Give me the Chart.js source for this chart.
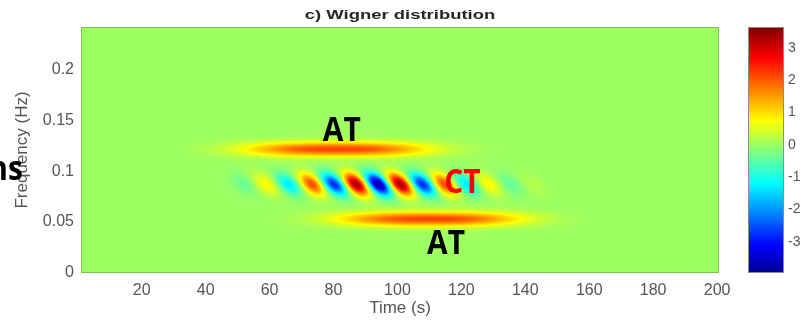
<!DOCTYPE html>
<html>
<head>
<meta charset="utf-8">
<title>c) Wigner distribution</title>
<script src="https://cdn.jsdelivr.net/npm/chart.js@4.4.1/dist/chart.umd.min.js"></script>
<style>
  html, body { margin: 0; padding: 0; background: #fff; }
  #wrap { position: relative; width: 806px; height: 323px; overflow: hidden; }
  #main { position: absolute; left: 0; top: 0; }
  #cbar { position: absolute; left: 736px; top: 0; }
</style>
</head>
<body>
<div id="wrap">
  <canvas id="main" width="806" height="323"></canvas>
  <canvas id="cbar" width="70" height="323"></canvas>
</div>
<script>
//DATA
const timeTicks  = [20, 40, 60, 80, 100, 120, 140, 160, 180, 200];
const freqTicks  = [0, 0.05, 0.1, 0.15, 0.2];
const colorTicks = [-3, -2, -1, 0, 1, 2, 3];

// auto-terms (AT): centre time (s), centre frequency (Hz), peak value
const atTime  = [81, 110];
const atFreq  = [0.1215, 0.053];
const atValue = [2.2, 2.2];

// cross-term (CT): one entry per lobe, left to right along the band
const ctTime  = [52, 59, 66, 73.3, 80.2, 87.1, 94, 100.9, 107.8, 114.7, 121.6, 128.5, 135.4, 142.3];
const ctValue = [-0.4, 0.8, -1.4, 2.2, -2.9, 3.5, -3.95, 3.5, -2.9, 2.2, -1.4, 0.8, -0.45, 0.2];
const ctFreq  = 0.087;

// text pasted over the figure
const noteText  = ['AT', 'CT', 'AT', 'ns'];
const noteTime  = [82.6, 120.3, 115.2, -22.6];
const noteFreq  = [0.1395, 0.0883, 0.0283, 0.101];
const noteColor = ['#000', '#ff0000', '#000', '#000'];

//RANGES
const T_MIN = 1, T_MAX = 200.6;
const F_MIN = 0, F_MAX = 0.2415;
const C_MIN = -3.97, C_MAX = 3.65;
const AT_SPREAD_T = 28;      // s, flat-topped along time
const AT_SHAPE    = 2.6;
const AT_SPREAD_F = 0.0049;  // Hz

//JET (matlab 64)
function jetPart(j) {
  if (j <= 0 || j >= 48) return 0;
  if (j < 16) return j / 16;
  if (j <= 32) return 1;
  return (48 - j) / 16;
}
function jet(v) {
  let p = (v - C_MIN) / (C_MAX - C_MIN);
  p = Math.min(1, Math.max(0, p));
  const k = p * 63 + 1;
  return [jetPart(k - 24), jetPart(k - 8), jetPart(k + 8)].map(c => Math.round(c * 255));
}

//PLUGINS
const heatmap = {
  id: 'heatmap',
  beforeDatasetsDraw(chart) {
    const { ctx, chartArea: a, scales: { x, y } } = chart;
    const w = Math.round(a.right - a.left), h = Math.round(a.bottom - a.top);
    const toPx = p => [x.getPixelForValue(p.x) - a.left, y.getPixelForValue(p.y) - a.top, p.v];
    const at = chart.data.datasets[0].data.map(toPx);
    const ct = chart.data.datasets[1].data.map(toPx);

    const sx = Math.abs(x.getPixelForValue(T_MIN + AT_SPREAD_T) - x.getPixelForValue(T_MIN));
    const sy = Math.abs(y.getPixelForValue(AT_SPREAD_F) - y.getPixelForValue(0));

    // CT stripes run parallel to the line joining the two auto-terms
    const dx = at[1][0] - at[0][0], dy = at[1][1] - at[0][1];
    const len = Math.hypot(dx, dy);
    const ux = dx / len, uy = dy / len;
    const step = (ct[ct.length - 1][0] - ct[0][0]) / (ct.length - 1);
    const sA = 1.25 * sy / Math.abs(uy);
    const sP = 0.42 * step * Math.abs(uy);

    const off = document.createElement('canvas');
    off.width = w; off.height = h;
    const octx = off.getContext('2d');
    const img = octx.createImageData(w, h);
    for (let j = 0; j < h; j++) {
      for (let i = 0; i < w; i++) {
        const px = i + 0.5, py = j + 0.5;
        let v = 0;
        for (const [cx, cy, pv] of at) {
          const ex = Math.abs(px - cx) / sx, ey = (py - cy) / sy;
          v += pv * Math.exp(-Math.pow(ex, AT_SHAPE) - 0.5 * ey * ey);
        }
        for (const [cx, cy, pv] of ct) {
          const rx = px - cx, ry = py - cy;
          const al = (rx * ux + ry * uy) / sA;
          const ac = (-rx * uy + ry * ux) / sP;
          v += pv * Math.exp(-0.5 * (al * al + ac * ac));
        }
        const [r, g, b] = jet(v);
        const o = (j * w + i) * 4;
        img.data[o] = r; img.data[o + 1] = g; img.data[o + 2] = b; img.data[o + 3] = 255;
      }
    }
    octx.putImageData(img, 0, 0);
    ctx.drawImage(off, Math.round(a.left), Math.round(a.top));
  },
  afterDatasetsDraw(chart) {
    const { ctx, chartArea: a } = chart;
    ctx.save();
    ctx.strokeStyle = 'rgba(0,0,0,0.22)';
    ctx.lineWidth = 1;
    ctx.strokeRect(a.left + 0.5, a.top + 0.5, a.right - a.left - 1, a.bottom - a.top - 1);
    ctx.restore();
  }
};

const overlay = {
  id: 'overlay',
  afterDraw(chart) {
    const { ctx, chartArea: a, scales: { x, y } } = chart;
    ctx.save();
    // title, drawn a bit stretched like the original figure
    ctx.fillStyle = '#262626';
    ctx.font = "bold 13px 'Liberation Sans', Arial, sans-serif";
    ctx.textAlign = 'center';
    ctx.textBaseline = 'middle';
    ctx.translate((a.left + a.right) / 2, 15);
    ctx.scale(1.42, 1);
    ctx.fillText('c) Wigner distribution', 0, 0);
    ctx.restore();

    noteText.forEach((t, i) => {
      ctx.save();
      ctx.translate(x.getPixelForValue(noteTime[i]), y.getPixelForValue(noteFreq[i]));
      ctx.scale(0.88, 1);
      ctx.font = "bold 34px 'Open Sans', sans-serif";
      ctx.fillStyle = noteColor[i];
      ctx.textAlign = 'center';
      ctx.textBaseline = 'middle';
      ctx.fillText(t, 0, 0);
      ctx.restore();
    });
  }
};

const colorbar = {
  id: 'colorbar',
  beforeDatasetsDraw(chart) {
    const { ctx, chartArea: a, scales: { y } } = chart;
    for (let py = Math.floor(a.top); py < a.bottom; py++) {
      const [r, g, b] = jet(y.getValueForPixel(py + 0.5));
      ctx.fillStyle = `rgb(${r},${g},${b})`;
      ctx.fillRect(a.left, py, a.right - a.left, 1);
    }
    ctx.strokeStyle = '#8c8c8c';
    ctx.lineWidth = 1;
    ctx.strokeRect(a.left + 0.5, a.top + 0.5, a.right - a.left - 1, a.bottom - a.top - 1);
  }
};

//CHARTS
Chart.defaults.font.family = "'Liberation Sans', Arial, sans-serif";
Chart.defaults.color = '#555';

new Chart(document.getElementById('main'), {
  type: 'scatter',
  data: {
    datasets: [
      { label: 'AT', data: atTime.map((t, i) => ({ x: t, y: atFreq[i], v: atValue[i] })), pointRadius: 0 },
      { label: 'CT', data: ctTime.map((t, i) => ({ x: t, y: ctFreq, v: ctValue[i] })), pointRadius: 0 }
    ]
  },
  options: {
    responsive: false,
    animation: false,
    layout: { padding: { left: 0, top: 27, right: 87, bottom: 0 } },
    plugins: { legend: { display: false }, tooltip: { enabled: false } },
    scales: {
      x: {
        type: 'linear', min: T_MIN, max: T_MAX,
        afterBuildTicks: s => { s.ticks = timeTicks.map(v => ({ value: v })); },
        afterFit: s => { s.height = 50; },
        grid: { display: false, drawTicks: false },
        border: { display: false },
        ticks: { padding: 8, font: { size: 16 }, color: '#555', maxRotation: 0, callback: v => String(v) },
        title: { display: true, text: 'Time (s)', font: { size: 17 }, color: '#555', padding: { top: 0, bottom: 4 } }
      },
      y: {
        type: 'linear', min: F_MIN, max: F_MAX,
        afterBuildTicks: s => { s.ticks = freqTicks.map(v => ({ value: v })); },
        afterFit: s => { s.width = 81; },
        grid: { display: false, drawTicks: false },
        border: { display: false },
        ticks: { padding: 7, font: { size: 16 }, color: '#555', callback: v => String(+v.toFixed(3)) },
        title: { display: true, text: 'Frequency (Hz)', font: { size: 17 }, color: '#555', padding: { top: 12, bottom: 0 } }
      }
    }
  },
  plugins: [heatmap, overlay]
});

new Chart(document.getElementById('cbar'), {
  type: 'scatter',
  data: { datasets: [] },
  options: {
    responsive: false,
    animation: false,
    layout: { padding: { left: 12, top: 27, right: 0, bottom: 50 } },
    plugins: { legend: { display: false }, tooltip: { enabled: false } },
    scales: {
      x: { display: false, min: 0, max: 1 },
      y: {
        position: 'right', min: C_MIN, max: C_MAX,
        afterBuildTicks: s => { s.ticks = colorTicks.map(v => ({ value: v })); },
        afterFit: s => { s.width = 22; },
        grid: { display: false, drawTicks: false },
        border: { display: false },
        ticks: { padding: 4, font: { size: 14 }, color: '#555', callback: v => String(v) }
      }
    }
  },
  plugins: [colorbar]
});
</script>
</body>
</html>
